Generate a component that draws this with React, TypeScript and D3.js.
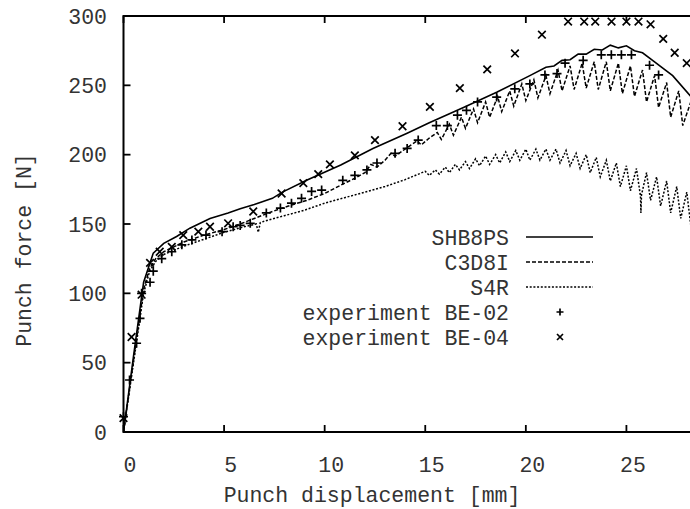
import React from 'react';
import * as d3 from 'd3';

type P = [number, number];

const xTicks = [0, 5, 10, 15, 20, 25, 30];
const yTicks = [0, 50, 100, 150, 200, 250, 300];

const shb8ps: P[] = [
  [0, 0], [0.5, 55], [1.0, 108], [1.48, 129], [2.0, 136], [2.64, 141], [3.3, 147], [4.3, 154],
  [5.2, 158], [5.8, 161], [6.5, 164], [6.9, 166], [7.4, 168.5], [7.9, 173], [9.1, 181.5],
  [10.8, 192.5], [12.4, 204.5], [14.1, 215.5], [15.2, 223], [16.9, 234], [18.55, 245],
  [20.2, 257], [21.0, 263], [21.4, 264], [21.8, 268], [22.2, 268.5], [22.6, 272.5], [23.0, 272.5],
  [23.4, 276], [23.8, 275.5], [24.2, 279], [24.6, 277], [25.0, 278.5], [25.4, 275], [25.8, 273.5],
  [26.3, 268], [27.3, 257], [28.2, 242], [28.6, 232],
];

const c3d8i: P[] = [
  [0, 0], [0.5, 52], [1.0, 103], [1.3, 118], [1.6, 125], [2.0, 130], [3.0, 137], [4.0, 142],
  [5.0, 146], [5.8, 150], [6.5, 154], [7.4, 159], [8.2, 163], [9.1, 167], [10.0, 172],
  [10.8, 178], [11.5, 183], [12.0, 187], [12.3, 193], [12.6, 191], [13.0, 196], [13.3, 201],
  [13.5, 199], [13.9, 203], [14.3, 207], [14.6, 210], [14.8, 207], [15.2, 212],
  [15.6, 216], [15.8, 211], [16.2, 222], [16.4, 214], [16.8, 227], [17.0, 219], [17.4, 233],
  [17.6, 223], [18.0, 238], [18.2, 227], [18.6, 242], [18.8, 231], [19.2, 246], [19.4, 235],
  [19.8, 251], [20.0, 239], [20.4, 254], [20.6, 241], [21.0, 257], [21.2, 244], [21.6, 261],
  [21.8, 246], [22.2, 264], [22.4, 247], [22.8, 266], [23.0, 248], [23.4, 267], [23.6, 247],
  [24.0, 267], [24.2, 246], [24.6, 266], [24.8, 244], [25.2, 264], [25.4, 242], [25.8, 261],
  [26.0, 238], [26.4, 257], [26.6, 234], [27.0, 252], [27.2, 227], [27.6, 246], [27.8, 221],
  [28.2, 238], [28.4, 212], [28.8, 230],
];

const s4r: P[] = [
  [0, 0], [0.5, 50], [1.0, 100], [1.3, 116], [1.6, 123], [2.0, 128], [3.0, 134], [4.0, 139],
  [5.0, 144], [6.0, 148], [6.6, 150], [6.7, 144], [6.8, 151], [7.0, 152], [8.0, 156],
  [9.0, 160], [10.0, 165], [11.0, 169], [12.0, 173], [13.0, 177], [14.0, 182],
  [15.0, 188], [15.2, 185], [15.5, 189], [15.7, 186], [16.0, 191], [16.2, 187], [16.5, 193],
  [16.7, 189], [17.0, 195], [17.2, 190], [17.5, 197], [17.7, 192], [18.0, 199], [18.2, 193],
  [18.5, 200], [18.7, 194], [19.0, 202], [19.2, 195], [19.5, 203], [19.7, 196], [20.0, 204],
  [20.2, 196], [20.5, 204], [20.7, 196], [21.0, 204], [21.2, 196], [21.5, 204], [21.7, 194],
  [22.0, 203], [22.2, 192], [22.5, 201], [22.7, 190], [23.0, 200], [23.2, 187], [23.5, 198],
  [23.7, 184], [24.0, 196], [24.2, 181], [24.5, 194], [24.7, 177], [25.0, 192], [25.2, 174],
  [25.5, 190], [25.7, 170], [25.72, 158], [25.75, 171], [26.0, 187], [26.2, 167], [26.5, 184],
  [26.7, 163], [27.0, 181], [27.2, 158], [27.5, 177], [27.7, 154], [28.0, 173], [28.2, 149],
  [28.5, 169], [28.7, 145],
];

const be02: P[] = [
  [0, 11], [0.3, 37.5], [0.65, 64], [0.82, 82], [0.9, 100], [1.32, 108], [1.48, 116],
  [1.9, 125], [2.4, 130], [2.9, 135], [3.4, 138.5], [4.1, 142], [4.9, 144.5], [5.45, 148],
  [5.8, 149], [6.3, 150.5], [7.1, 158], [7.8, 161.5], [8.35, 165], [8.85, 168.5],
  [9.35, 173.5], [9.85, 174.5], [10.9, 181.5], [11.5, 185], [12.1, 189], [12.6, 194],
  [13.5, 201], [14.1, 204.5], [14.65, 210.5], [15.55, 221], [16.1, 221], [16.6, 228.5],
  [17.05, 232], [17.6, 238], [18.55, 241.5], [19.45, 247.5], [20.2, 251], [20.95, 257.5],
  [21.55, 258.5], [21.95, 266], [22.85, 268], [23.75, 272], [24.25, 272], [24.75, 272],
  [25.25, 272], [26.15, 264.5], [26.6, 257.5],
];

const be04: P[] = [
  [0, 10], [0.4, 68.5], [0.9, 99], [1.32, 122], [1.8, 130], [2.4, 133.5], [2.97, 142],
  [3.72, 144.5], [4.3, 148], [5.2, 150.5], [6.45, 159], [7.86, 172], [8.94, 179.5],
  [9.68, 186], [10.26, 193], [11.5, 199.5], [12.5, 210.5], [13.87, 220.5], [15.23, 234.5],
  [16.72, 248], [18.08, 261.5], [19.46, 273], [20.8, 286.5], [22.1, 296], [22.9, 296],
  [23.45, 296], [24.26, 296], [25.0, 296], [25.6, 296], [26.2, 294], [26.83, 283.5],
  [27.4, 273.5], [28.0, 266],
];

const legendLabels = ['SHB8PS', 'C3D8I', 'S4R', 'experiment BE-02', 'experiment BE-04'];

const FONT = "'Courier New', Courier, 'Nimbus Mono PS', 'Nimbus Mono L', FreeMono, 'Liberation Mono', monospace";
const FS = 21.5;
const TXT = '#333';

function Plus({ cx, cy, r }: { cx: number; cy: number; r: number }) {
  return (
    <path d={`M${cx - r},${cy}H${cx + r}M${cx},${cy - r}V${cy + r}`} stroke="#000" strokeWidth={1.7} fill="none" />
  );
}
function Cross({ cx, cy, r }: { cx: number; cy: number; r: number }) {
  return (
    <path d={`M${cx - r},${cy - r}L${cx + r},${cy + r}M${cx - r},${cy + r}L${cx + r},${cy - r}`} stroke="#000" strokeWidth={1.7} fill="none" />
  );
}

export default function App() {
  const W = 690, H = 509;
  const left = 123.5, top = 16, bottom = 432, right = 727;
  const x = d3.scaleLinear().domain([0, 30]).range([left, right]);
  const y = d3.scaleLinear().domain([0, 300]).range([bottom, top]);
  const line = d3.line<P>().x(d => x(d[0])).y(d => y(d[1]));
  const tick = 7;

  const legendX = 509;
  const legendY = [237, 262, 287, 312, 337];
  const lx1 = 526, lx2 = 593, lm = 560;

  return (
    <svg width={W} height={H} style={{ position: 'absolute', left: 0, top: 0, background: '#fff' }}>
      <defs>
        <clipPath id="plot">
          <rect x={left} y={top} width={right - left} height={bottom - top} />
        </clipPath>
      </defs>
      <rect x={0} y={0} width={W} height={H} fill="#fff" />
      {xTicks.map(t => (
        <g key={'xt' + t}>
          <line x1={x(t)} x2={x(t)} y1={bottom} y2={bottom - tick} stroke="#000" strokeWidth={1.8} />
          <line x1={x(t)} x2={x(t)} y1={top} y2={top + tick} stroke="#000" strokeWidth={1.8} />
          {x(t) + 20 < W && (
            <text x={x(t) + 6.5} y={472} textAnchor="middle" fontFamily={FONT} fontSize={FS} fill={TXT}>{t}</text>
          )}
        </g>
      ))}
      {yTicks.map(t => (
        <g key={'yt' + t}>
          <line x1={left} x2={left + tick} y1={y(t)} y2={y(t)} stroke="#000" strokeWidth={1.8} />
          <line x1={right} x2={right - tick} y1={y(t)} y2={y(t)} stroke="#000" strokeWidth={1.8} />
          <text x={107} y={y(t)} dy="0.35em" textAnchor="end" fontFamily={FONT} fontSize={FS} fill={TXT}>{t}</text>
        </g>
      ))}
      <rect x={left} y={top} width={right - left} height={bottom - top} fill="none" stroke="#000" strokeWidth={2} />
      <text x={372} y={502} textAnchor="middle" fontFamily={FONT} fontSize={FS} fill={TXT}>Punch displacement [mm]</text>
      <text transform={`translate(31,250) rotate(-90)`} textAnchor="middle" fontFamily={FONT} fontSize={FS} fill={TXT}>Punch force [N]</text>

      <g clipPath="url(#plot)">
        <path d={line(shb8ps) || ''} fill="none" stroke="#000" strokeWidth={1.6} />
        <path d={line(c3d8i) || ''} fill="none" stroke="#000" strokeWidth={1.5} strokeDasharray="4,2" />
        <path d={line(s4r) || ''} fill="none" stroke="#000" strokeWidth={1.5} strokeDasharray="2,1.7" />
      </g>
      {be02.map((d, i) => <Plus key={'p' + i} cx={x(d[0])} cy={y(d[1])} r={4.5} />)}
      {be04.map((d, i) => <Cross key={'c' + i} cx={x(d[0])} cy={y(d[1])} r={3.8} />)}

      {legendLabels.map((l, i) => (
        <text key={'lg' + i} x={legendX} y={legendY[i]} dy="0.35em" textAnchor="end" fontFamily={FONT} fontSize={FS} fill={TXT}>{l}</text>
      ))}
      <line x1={lx1} x2={lx2} y1={legendY[0]} y2={legendY[0]} stroke="#000" strokeWidth={1.6} />
      <line x1={lx1} x2={lx2} y1={legendY[1]} y2={legendY[1]} stroke="#000" strokeWidth={1.5} strokeDasharray="4,2" />
      <line x1={lx1} x2={lx2} y1={legendY[2]} y2={legendY[2]} stroke="#000" strokeWidth={1.5} strokeDasharray="2,1.7" />
      <Plus cx={lm} cy={legendY[3]} r={3.5} />
      <Cross cx={lm} cy={legendY[4]} r={3} />
    </svg>
  );
}
